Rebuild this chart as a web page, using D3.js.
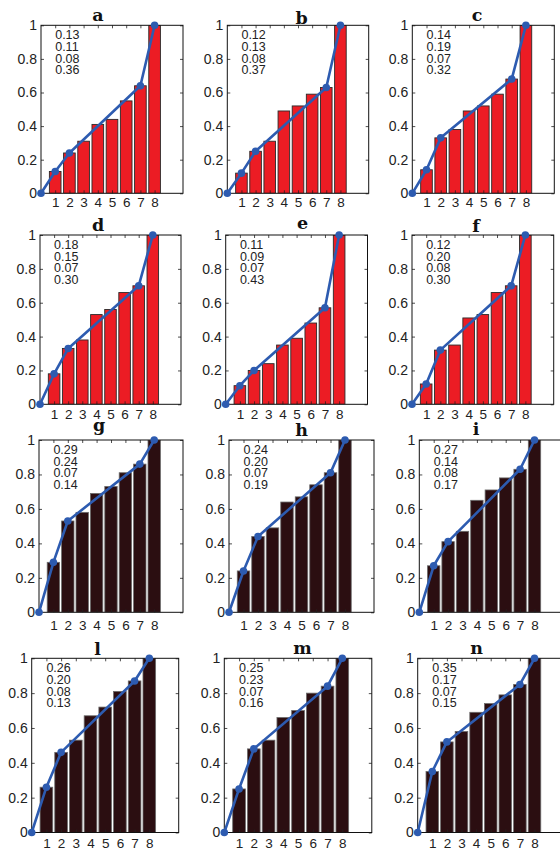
<!DOCTYPE html>
<html>
<head>
<meta charset="utf-8">
<script src="https://cdn.jsdelivr.net/npm/d3@7"></script>
<style>
  html, body { margin: 0; padding: 0; background: #fff; }
  svg { display: block; }
  .tick text { font-family: "Liberation Sans", Arial, sans-serif; fill: #222; }
</style>
</head>
<body>
<svg id="chart" width="560" height="850"></svg>
<script>
// Panel names (titles)
const panelNames = ["a", "b", "c", "d", "e", "f", "g", "h", "i", "l", "m", "n"];

// Cumulative bar heights for positions 1..8 in each panel
const barsA = [0.13, 0.24, 0.31, 0.41, 0.44, 0.55, 0.64, 1.00];
const barsB = [0.12, 0.25, 0.31, 0.49, 0.52, 0.59, 0.63, 1.00];
const barsC = [0.14, 0.33, 0.38, 0.49, 0.52, 0.59, 0.68, 1.00];
const barsD = [0.18, 0.33, 0.38, 0.53, 0.56, 0.66, 0.70, 1.00];
const barsE = [0.11, 0.20, 0.24, 0.35, 0.39, 0.48, 0.57, 1.00];
const barsF = [0.12, 0.32, 0.35, 0.51, 0.53, 0.66, 0.70, 1.00];
const barsG = [0.29, 0.53, 0.58, 0.69, 0.73, 0.81, 0.86, 1.00];
const barsH = [0.24, 0.44, 0.49, 0.64, 0.67, 0.74, 0.81, 1.00];
const barsI = [0.27, 0.41, 0.47, 0.65, 0.71, 0.78, 0.83, 1.00];
const barsL = [0.26, 0.46, 0.53, 0.67, 0.72, 0.81, 0.87, 1.00];
const barsM = [0.25, 0.48, 0.53, 0.66, 0.70, 0.80, 0.84, 1.00];
const barsN = [0.35, 0.52, 0.58, 0.69, 0.74, 0.79, 0.85, 1.00];

// Slope coefficients printed in each panel
const coefA = ["0.13", "0.11", "0.08", "0.36"];
const coefB = ["0.12", "0.13", "0.08", "0.37"];
const coefC = ["0.14", "0.19", "0.07", "0.32"];
const coefD = ["0.18", "0.15", "0.07", "0.30"];
const coefE = ["0.11", "0.09", "0.07", "0.43"];
const coefF = ["0.12", "0.20", "0.08", "0.30"];
const coefG = ["0.29", "0.24", "0.07", "0.14"];
const coefH = ["0.24", "0.20", "0.07", "0.19"];
const coefI = ["0.27", "0.14", "0.08", "0.17"];
const coefL = ["0.26", "0.20", "0.08", "0.13"];
const coefM = ["0.25", "0.23", "0.07", "0.16"];
const coefN = ["0.35", "0.17", "0.07", "0.15"];

// Categories on the x axis and y tick values
const categories = [1, 2, 3, 4, 5, 6, 7, 8];
const yTicks = [0, 0.2, 0.4, 0.6, 0.8, 1];
// Positions joined by the piecewise-linear fit (plus the origin)
const knotPositions = [1, 2, 7, 8];

const barSets = [barsA, barsB, barsC, barsD, barsE, barsF, barsG, barsH, barsI, barsL, barsM, barsN];
const coefSets = [coefA, coefB, coefC, coefD, coefE, coefF, coefG, coefH, coefI, coefL, coefM, coefN];
const groups = ["red", "red", "red", "red", "red", "red", "dark", "dark", "dark", "dark", "dark", "dark"];

// Panel frames: left, top, right, bottom, title centre x, title baseline, x-label padding
const frames = [
  [41.0, 25.3, 183.0, 193.3, 98.0, 20.5, 4.2],
  [227.3, 25.3, 368.7, 193.3, 301.5, 24.0, 4.2],
  [412.3, 25.3, 554.3, 193.3, 477.0, 20.7, 4.2],
  [40.0, 235.0, 181.0, 404.3, 98.0, 231.0, 5.4],
  [225.7, 235.0, 367.5, 404.3, 302.5, 229.0, 5.4],
  [412.0, 235.0, 553.7, 404.3, 476.0, 231.5, 5.4],
  [39.0, 440.0, 183.0, 612.3, 99.0, 430.5, 8.0],
  [229.0, 440.0, 374.0, 612.3, 301.5, 435.5, 8.0],
  [419.3, 440.0, 563.3, 612.3, 476.0, 435.0, 8.0],
  [31.7, 658.3, 178.7, 832.5, 97.5, 655.0, 5.6],
  [224.3, 658.3, 371.8, 832.5, 302.5, 653.5, 5.6],
  [417.7, 658.3, 563.7, 832.5, 476.7, 654.0, 5.6]
];

const style = {
  red:  { fill: "#ec1c24", stroke: "#2a2a2a", strokeWidth: 0.9, width: 0.82 },
  dark: { fill: "#2b0e11", stroke: "#6b6b6b", strokeWidth: 0.8, width: 0.86 }
};
const lineColor = "#2d5bb0";

const svg = d3.select("#chart");
svg.append("rect").attr("width", 560).attr("height", 850).attr("fill", "#fff");

panelNames.forEach((name, p) => {
  const [L, T, R, B, tx, ty, xPad] = frames[p];
  const bars = barSets[p];
  const st = style[groups[p]];

  const x = d3.scaleLinear().domain([0, 10]).range([L, R]);
  const y = d3.scaleLinear().domain([0, 1]).range([B, T]);
  const g = svg.append("g");

  const clipId = "clip" + p;
  g.append("clipPath").attr("id", clipId)
    .append("rect").attr("x", L).attr("y", T).attr("width", R - L).attr("height", B - T);

  const plot = g.append("g").attr("clip-path", `url(#${clipId})`);

  // bars
  const bw = x(st.width) - x(0);
  plot.selectAll("rect.bar")
    .data(categories.map((c, i) => ({ c, v: bars[i] })))
    .join("rect")
    .attr("class", "bar")
    .attr("x", d => x(d.c) - bw / 2)
    .attr("y", d => y(d.v))
    .attr("width", bw)
    .attr("height", d => y(0) - y(d.v))
    .attr("fill", st.fill)
    .attr("stroke", st.stroke)
    .attr("stroke-width", st.strokeWidth);

  // axes with inward ticks on all four sides
  const axL = d3.axisLeft(y).tickValues(yTicks).tickFormat(d3.format("~g"))
    .tickSizeInner(-3).tickSizeOuter(0).tickPadding(4);
  const axR = d3.axisRight(y).tickValues(yTicks).tickFormat("")
    .tickSizeInner(-3).tickSizeOuter(0);
  const axB = d3.axisBottom(x).tickValues(categories).tickFormat(d3.format("d"))
    .tickSizeInner(-3).tickSizeOuter(0).tickPadding(xPad);
  const axT = d3.axisTop(x).tickValues(categories).tickFormat("")
    .tickSizeInner(-3).tickSizeOuter(0);

  const aL = g.append("g").attr("transform", `translate(${L},0)`).call(axL);
  const aR = g.append("g").attr("transform", `translate(${R},0)`).call(axR);
  const aB = g.append("g").attr("transform", `translate(0,${B})`).call(axB);
  const aT = g.append("g").attr("transform", `translate(0,${T})`).call(axT);
  [aL, aR, aB, aT].forEach(a => {
    a.select(".domain").remove();
    a.attr("font-size", null).attr("font-family", null);
    a.selectAll(".tick line").attr("stroke", "#222").attr("stroke-width", 0.8);
  });
  aL.selectAll(".tick text").attr("font-size", 14);
  aB.selectAll(".tick text").attr("font-size", 13.5);

  // box
  g.append("rect").attr("x", L).attr("y", T).attr("width", R - L).attr("height", B - T)
    .attr("fill", "none").attr("stroke", "#111").attr("stroke-width", 1);

  // piecewise-linear fit through the origin and the knot bars
  const pts = [[0, 0]].concat(knotPositions.map(k => [k, bars[k - 1]]));
  g.append("path")
    .datum(pts)
    .attr("d", d3.line().x(d => x(d[0])).y(d => y(d[1])))
    .attr("fill", "none")
    .attr("stroke", lineColor)
    .attr("stroke-width", 2.6)
    .attr("stroke-linejoin", "round");
  g.selectAll("circle.knot")
    .data(pts)
    .join("circle")
    .attr("class", "knot")
    .attr("cx", d => x(d[0]))
    .attr("cy", d => y(d[1]))
    .attr("r", 3.8)
    .attr("fill", lineColor);

  // coefficients
  coefSets[p].forEach((t, i) => {
    g.append("text")
      .attr("x", x(1))
      .attr("y", T + 14 + i * 11.7)
      .attr("font-family", "'Liberation Sans', Arial, sans-serif")
      .attr("font-size", 12.5)
      .attr("fill", "#222")
      .text(t);
  });

  // title
  g.append("text")
    .attr("x", tx)
    .attr("y", ty)
    .attr("text-anchor", "middle")
    .attr("font-family", "'DejaVu Serif', serif")
    .attr("font-weight", "bold")
    .attr("font-size", 17.5)
    .attr("fill", "#111")
    .text(name);
});
</script>
</body>
</html>
